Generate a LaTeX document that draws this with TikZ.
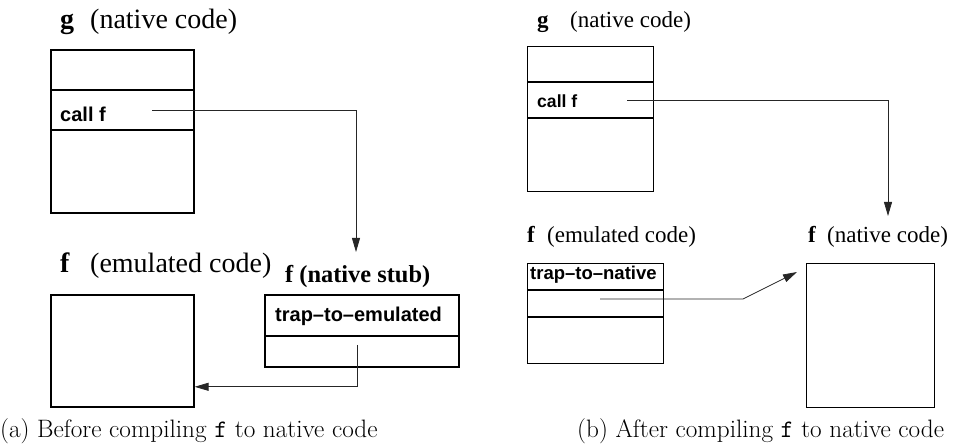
\documentclass[tikz,border=0pt]{standalone}
\usepackage{fontspec}
\newfontfamily\tms[Ligatures=TeX]{Liberation Serif}
\newfontfamily\hlv[Ligatures=TeX]{Liberation Sans}
\usetikzlibrary{arrows.meta}
\tikzset{
  box/.style={draw, inner sep=0pt, anchor=north west},
  lbl/.style={inner sep=0pt, anchor=base west},
  conn/.style={draw=black!85, line width=0.8pt, -{Triangle[length=14pt,width=8pt]}},
  bigser/.style={font=\tms\fontsize{28}{30}\selectfont},
  bigbold/.style={font=\tms\bfseries\fontsize{28}{30}\selectfont},
  smser/.style={font=\tms\fontsize{23}{25}\selectfont},
  smbold/.style={font=\tms\bfseries\fontsize{23}{25}\selectfont},
  stubbold/.style={font=\tms\bfseries\fontsize{24.4}{26}\selectfont},
  code/.style={font=\hlv\bfseries\fontsize{#1}{#1}\selectfont},
  capt/.style={font=\fontsize{25.2}{27}\selectfont}
}
\begin{document}
\begin{tikzpicture}[x=1pt,y=-1pt]
\useasboundingbox (0,0) rectangle (959,446);

% ---------------- panel (a) ----------------
\node[lbl, bigbold] (ga) at (60,29) {g};
\node[lbl, bigser] (gat) at (90,29) {(native code)};
\node[box, line width=1.6pt, minimum width=143pt, minimum height=163pt] (gboxa) at (50,49) {};
\draw[line width=2.4pt] (50,90) -- (193,90);
\draw[line width=2.4pt] (50,130) -- (193,130);
\node[lbl, code=20] (callfa) at (60,122) {call f};

\node[lbl, bigbold] (fea) at (60,273) {f};
\node[lbl, bigser] (feat) at (90,273) {(emulated code)};
\node[box, line width=1.6pt, minimum width=143pt, minimum height=112pt] (feboxa) at (50,294) {};

\node[lbl, stubbold] (stublbl) at (285,283) {f (native stub)};
\node[box, line width=1.6pt, minimum width=194pt, minimum height=72pt] (stub) at (264,294) {};
\draw[line width=2.4pt] (264,336) -- (458,336);
\node[lbl, code=20] (trapem) at (275,322) {trap--to--emulated};

\coordinate (sa1) at (152,110);
\coordinate (ea1) at (356,252);
\draw[conn] (sa1) -| (ea1);
\coordinate (sa2) at (357,345);
\draw[conn] (sa2) |- ([yshift=-36pt]feboxa.east);

\node[lbl, capt] (capa) at (0,437) {(a) Before compiling \texttt{f} to native code};

% ---------------- panel (b) ----------------
\node[lbl, smbold] (gb) at (537,28) {g};
\node[lbl, smser] (gbt) at (570,28) {(native code)};
\node[box, line width=1.2pt, minimum width=126pt, minimum height=145pt] (gboxb) at (527,46) {};
\draw[line width=1.4pt] (527,82) -- (653,82);
\draw[line width=1.4pt] (527,118) -- (653,118);
\node[lbl, code=17.6] (callfb) at (537,108) {call f};

\node[lbl, smbold] (feb) at (527,243) {f};
\node[lbl, smser] (febt) at (547,243) {(emulated code)};
\node[box, line width=1.2pt, minimum width=136pt, minimum height=100pt] (feboxb) at (527,263) {};
\draw[line width=2pt] (527,290) -- (663,290);
\draw[line width=2pt] (527,317) -- (663,317);
\node[lbl, code=18.5] (trapnat) at (530,280) {trap--to--native};

\node[lbl, smbold] (fnb) at (808,243) {f};
\node[lbl, smser] (fnbt) at (827,243) {(native code)};
\node[box, line width=1.2pt, minimum width=128pt, minimum height=144pt] (fnboxb) at (806,263) {};

\coordinate (sb1) at (627,100);
\coordinate (eb1) at (888,216);
\draw[conn] (sb1) -| (eb1);
\coordinate (sb2) at (600,299);
\coordinate (kb2) at (743,299);
\coordinate (eb2) at (797,272);
\draw[conn] (sb2) -- (kb2) -- (eb2);

\node[lbl, capt] (capb) at (577,437) {(b) After compiling \texttt{f} to native code};
\end{tikzpicture}
\end{document}
